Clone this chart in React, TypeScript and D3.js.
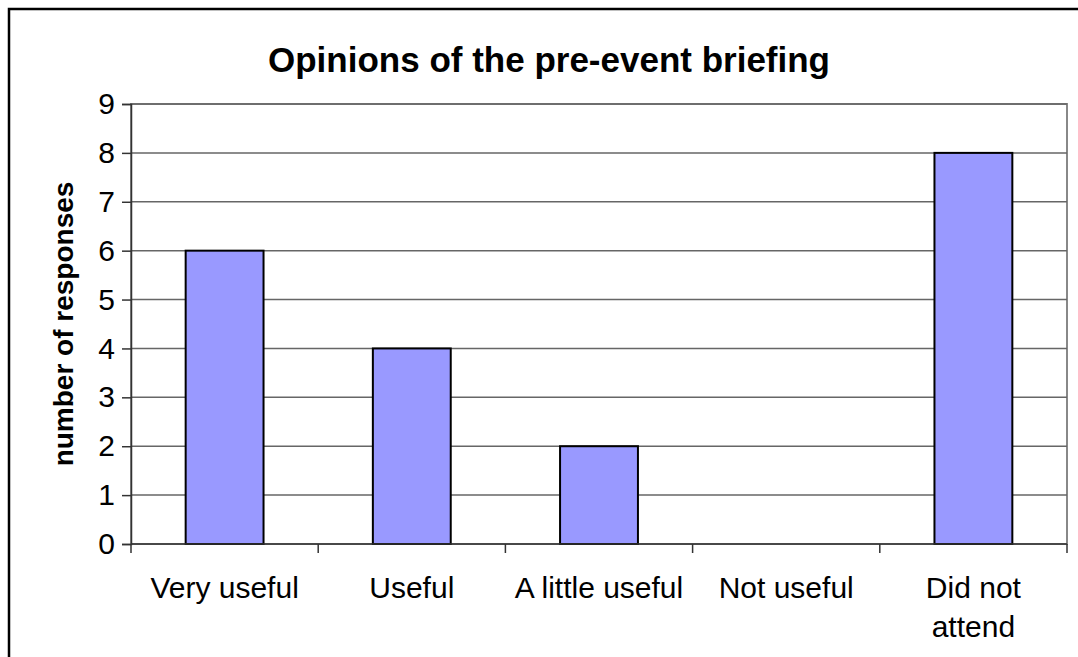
import React, { useEffect, useRef } from 'react';
import * as d3 from 'd3';

const categories = ['Very useful', 'Useful', 'A little useful', 'Not useful', 'Did not attend'];
const responses = [6, 4, 2, 0, 8];
const yTicks = [0, 1, 2, 3, 4, 5, 6, 7, 8, 9];

// category labels wrapped like the original
const labelLines: Record<string, string[]> = {
  'Did not attend': ['Did not', 'attend'],
};

export default function App() {
  const ref = useRef<SVGSVGElement>(null);

  useEffect(() => {
    const svg = d3.select(ref.current);
    svg.selectAll('*').remove();

    const W = 1078, H = 657;
    const margin = { top: 104, right: 11, bottom: 113, left: 131 };
    const width = W - margin.left - margin.right;
    const height = H - margin.top - margin.bottom;
    const font = 'Liberation Sans, Arial, sans-serif';

    // outer chart border
    svg.append('rect')
      .attr('x', 9).attr('y', 9)
      .attr('width', W).attr('height', H)
      .attr('fill', 'white')
      .attr('stroke', 'black')
      .attr('stroke-width', 2.5);

    svg.append('text')
      .attr('x', 549).attr('y', 72)
      .attr('text-anchor', 'middle')
      .attr('font-family', font)
      .attr('font-weight', 'bold')
      .attr('font-size', 35)
      .text('Opinions of the pre-event briefing');

    const x = d3.scaleBand().domain(categories).range([0, width]).paddingInner(0).paddingOuter(0);
    const y = d3.scaleLinear().domain([0, 9]).range([height, 0]);

    const plot = svg.append('g').attr('transform', `translate(${margin.left},${margin.top})`);

    // plot area frame (gray)
    plot.append('rect')
      .attr('x', 0).attr('y', 0)
      .attr('width', width).attr('height', height)
      .attr('fill', 'none')
      .attr('stroke', '#888')
      .attr('stroke-width', 2);

    // gridlines
    plot.selectAll('.grid').data(yTicks.slice(1))
      .enter().append('line')
      .attr('x1', 0).attr('x2', width)
      .attr('y1', d => y(d)).attr('y2', d => y(d))
      .attr('stroke', '#666')
      .attr('stroke-width', 1.5);

    // bars
    const bw = x.bandwidth() * 0.416;
    plot.selectAll('.bar').data(responses)
      .enter().append('rect')
      .attr('x', (d, i) => x(categories[i])! + (x.bandwidth() - bw) / 2)
      .attr('y', d => y(d))
      .attr('width', bw)
      .attr('height', d => height - y(d))
      .attr('fill', d => d > 0 ? '#9999FF' : 'none')
      .attr('stroke', d => d > 0 ? 'black' : 'none')
      .attr('stroke-width', 2);

    // y axis
    const yAxis = plot.append('g')
      .call(d3.axisLeft(y).tickValues(yTicks).tickSize(9).tickPadding(7));
    yAxis.select('.domain').attr('stroke', '#333').attr('stroke-width', 1.5);
    yAxis.selectAll('.tick line').attr('stroke', '#333').attr('stroke-width', 1.5);
    yAxis.selectAll('.tick text')
      .attr('font-family', font).attr('font-size', 30).attr('fill', 'black');

    // x axis
    const xAxis = plot.append('g').attr('transform', `translate(0,${height})`);
    xAxis.append('line')
      .attr('x1', 0).attr('x2', width).attr('y1', 0).attr('y2', 0)
      .attr('stroke', '#333').attr('stroke-width', 1.5);
    const bounds = [...categories.map(c => x(c)!), width];
    xAxis.selectAll('.xt').data(bounds)
      .enter().append('line')
      .attr('x1', d => d).attr('x2', d => d)
      .attr('y1', 0).attr('y2', 9)
      .attr('stroke', '#333').attr('stroke-width', 1.5);

    const labels = xAxis.selectAll('.xl').data(categories)
      .enter().append('text')
      .attr('x', d => x(d)! + x.bandwidth() / 2)
      .attr('y', 54)
      .attr('text-anchor', 'middle')
      .attr('font-family', font)
      .attr('font-size', 30);
    labels.each(function (d) {
      const lines = labelLines[d] || [d];
      const t = d3.select(this);
      lines.forEach((ln, i) => {
        t.append('tspan')
          .attr('x', x(d)! + x.bandwidth() / 2)
          .attr('dy', i === 0 ? 0 : 39)
          .text(ln);
      });
    });

    // y axis title
    svg.append('text')
      .attr('transform', `translate(73,${margin.top + height / 2}) rotate(-90)`)
      .attr('text-anchor', 'middle')
      .attr('font-family', font)
      .attr('font-weight', 'bold')
      .attr('font-size', 28)
      .text('number of responses');
  }, []);

  return (
    <svg ref={ref} width={1078} height={657}
      style={{ position: 'absolute', left: 0, top: 0, background: 'white' }} />
  );
}
